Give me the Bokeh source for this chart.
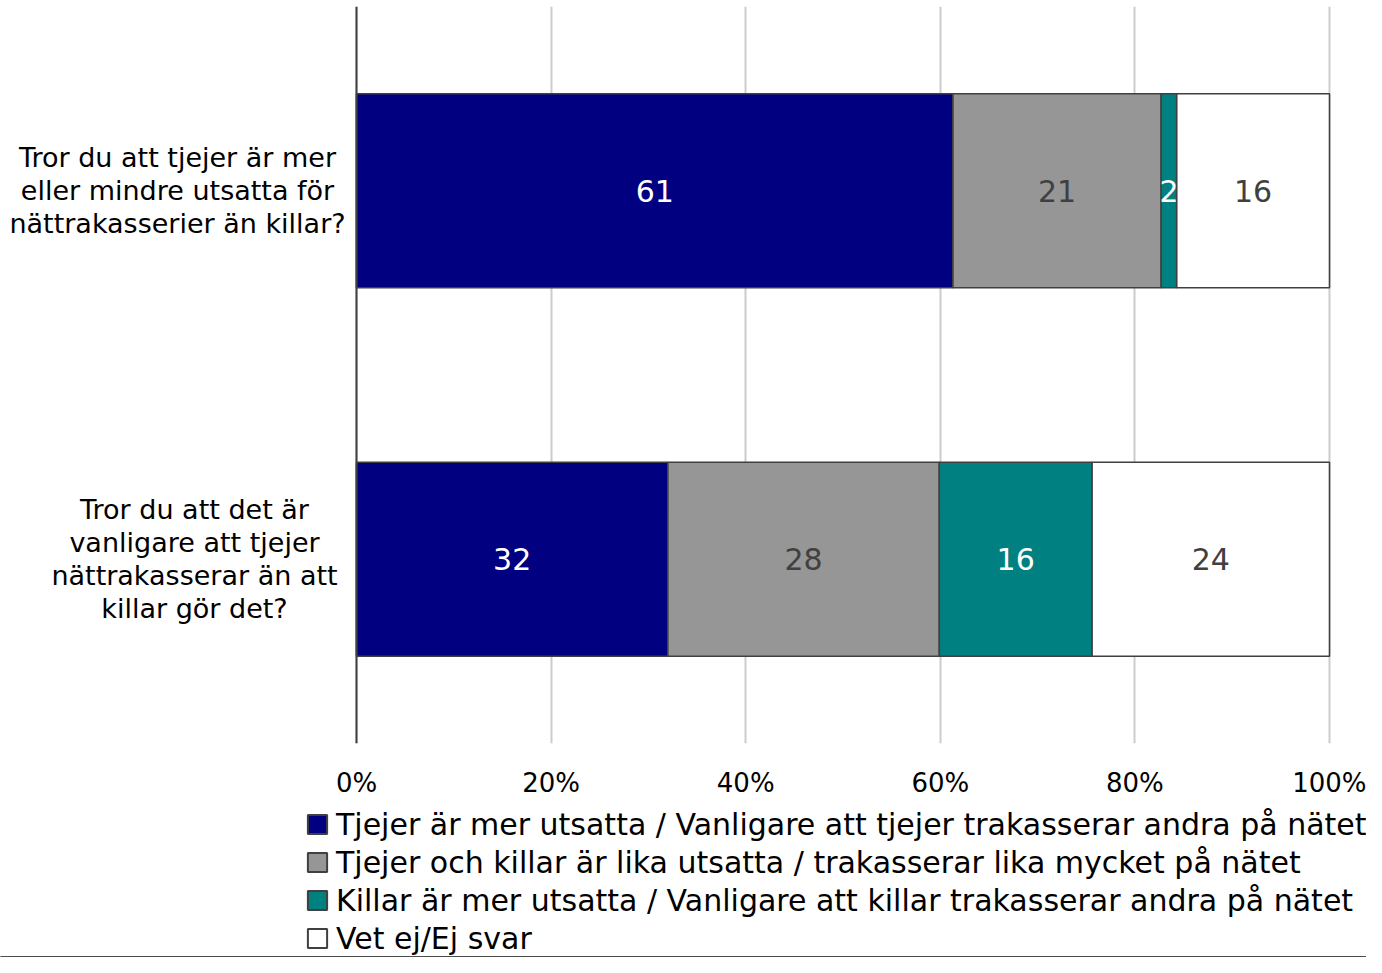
from bokeh.plotting import figure
from bokeh.layouts import column
from bokeh.models import Range1d, FixedTicker, Legend, LegendItem, Span, ColumnDataSource
from bokeh.embed import file_html
from bokeh.resources import INLINE
from bokeh.core.properties import value

# ---- data ----
questions = [
    "Tror du att tjejer är mer\neller mindre utsatta för\nnättrakasserier än killar?",
    "Tror du att det är\nvanligare att tjejer\nnättrakasserar än att\nkillar gör det?",
]
series_names = [
    "Tjejer är mer utsatta / Vanligare att tjejer trakasserar andra på nätet",
    "Tjejer och killar är lika utsatta / trakasserar lika mycket på nätet",
    "Killar är mer utsatta / Vanligare att killar trakasserar andra på nätet",
    "Vet ej/Ej svar",
]
tjejer_mer = [61.3, 32.0]
lika = [21.4, 27.9]
killar_mer = [1.6, 15.7]
vet_ej = [15.7, 24.4]
x_ticks = [0, 20, 40, 60, 80, 100]
x_tick_labels = ["0%", "20%", "40%", "60%", "80%", "100%"]

series_values = [tjejer_mer, lika, killar_mer, vet_ej]
fill_colors = ["#000080", "#969696", "#008080", "#FFFFFF"]
text_colors = ["#FFFFFF", "#404040", "#FFFFFF", "#404040"]
edge = "#404040"

FONT = "DejaVu Sans"
W = 1366
TOP_H = 800
LEG_H = 157

# pixel layout of the plotting area inside the canvas
AREA_LEFT = 356
AREA_RIGHT = 1329
PPU = (AREA_RIGHT - AREA_LEFT) / 100.0
x_start = -AREA_LEFT / PPU
x_end = 100 + (W - AREA_RIGHT) / PPU

p = figure(width=W, height=TOP_H, x_range=Range1d(x_start, x_end), y_range=Range1d(0, 2),
           output_backend="svg", toolbar_location=None, y_axis_location=None,
           min_border_left=0, min_border_right=0, min_border_top=6,
           min_border_bottom=57)
p.outline_line_color = None
p.background_fill_color = "#FFFFFF"
p.border_fill_color = "#FFFFFF"

n = len(questions)
ypos = [n - i - 0.5 for i in range(n)]

p.xgrid.ticker = FixedTicker(ticks=x_ticks)
p.xgrid.grid_line_color = "#CCCCCC"
p.xgrid.grid_line_width = 2
p.ygrid.grid_line_color = None

p.add_layout(Span(location=0, dimension="height", line_color=edge, line_width=2))

left = [0.0] * n
for vals, fc, tc in zip(series_values, fill_colors, text_colors):
    right = [l + v for l, v in zip(left, vals)]
    mid = [(l + r) / 2 for l, r in zip(left, right)]
    src = ColumnDataSource(dict(y=ypos, left=left, right=right, mid=mid,
                                lab=[str(int(round(v))) for v in vals]))
    p.hbar(y="y", left="left", right="right", height=0.5265, source=src,
           fill_color=fc, line_color=edge, line_width=1.6)
    p.text(x="mid", y="y", text="lab", source=src, text_color=tc,
           text_align="center", text_baseline="middle",
           text_font=value(FONT), text_font_size="30px")
    left = right

# category labels (left of the plotting area)
label_center_px = [177, 194]
qsrc = ColumnDataSource(dict(x=[(c - AREA_LEFT) / PPU for c in label_center_px],
                             y=ypos, t=questions))
p.text(x="x", y="y", text="t", source=qsrc, text_align="center",
       text_baseline="middle", text_font=value(FONT), text_font_size="27px",
       text_color="#000000", text_line_height=1.07)

xa = p.xaxis[0]
xa.ticker = FixedTicker(ticks=x_ticks)
xa.major_label_overrides = {t: l for t, l in zip(x_ticks, x_tick_labels)}
xa.axis_line_color = None
xa.major_tick_line_color = None
xa.minor_tick_line_color = None
xa.major_tick_out = 0
xa.major_tick_in = 0
xa.major_label_standoff = 24
xa.major_label_text_font = FONT
xa.major_label_text_font_size = "26px"
xa.major_label_text_color = "#000000"

# legend panel
pl = figure(width=W, height=LEG_H, x_range=Range1d(0, 1), y_range=Range1d(0, 1),
            output_backend="svg", toolbar_location=None,
            x_axis_location=None, y_axis_location=None,
            min_border=0)
pl.outline_line_color = None
pl.xgrid.grid_line_color = None
pl.ygrid.grid_line_color = None
items = []
for nm, fc in zip(series_names, fill_colors):
    # legend swatch renderer placed outside the visible range
    r = pl.hbar(y=[-10], left=[0], right=[1], height=0.5, fill_color=fc,
                line_color=edge, line_width=2)
    items.append(LegendItem(label=nm, renderers=[r]))
legend = Legend(items=items, location=(305, 0), orientation="vertical",
                label_text_font=FONT, label_text_font_size="30px",
                label_text_color="#000000",
                glyph_width=24, glyph_height=24, label_standoff=7,
                spacing=0, label_height=38, padding=0, margin=0,
                border_line_color=None, background_fill_alpha=0)
pl.add_layout(legend)

layout = column(p, pl, spacing=0)
open("out.html", "w").write(file_html(layout, INLINE))
